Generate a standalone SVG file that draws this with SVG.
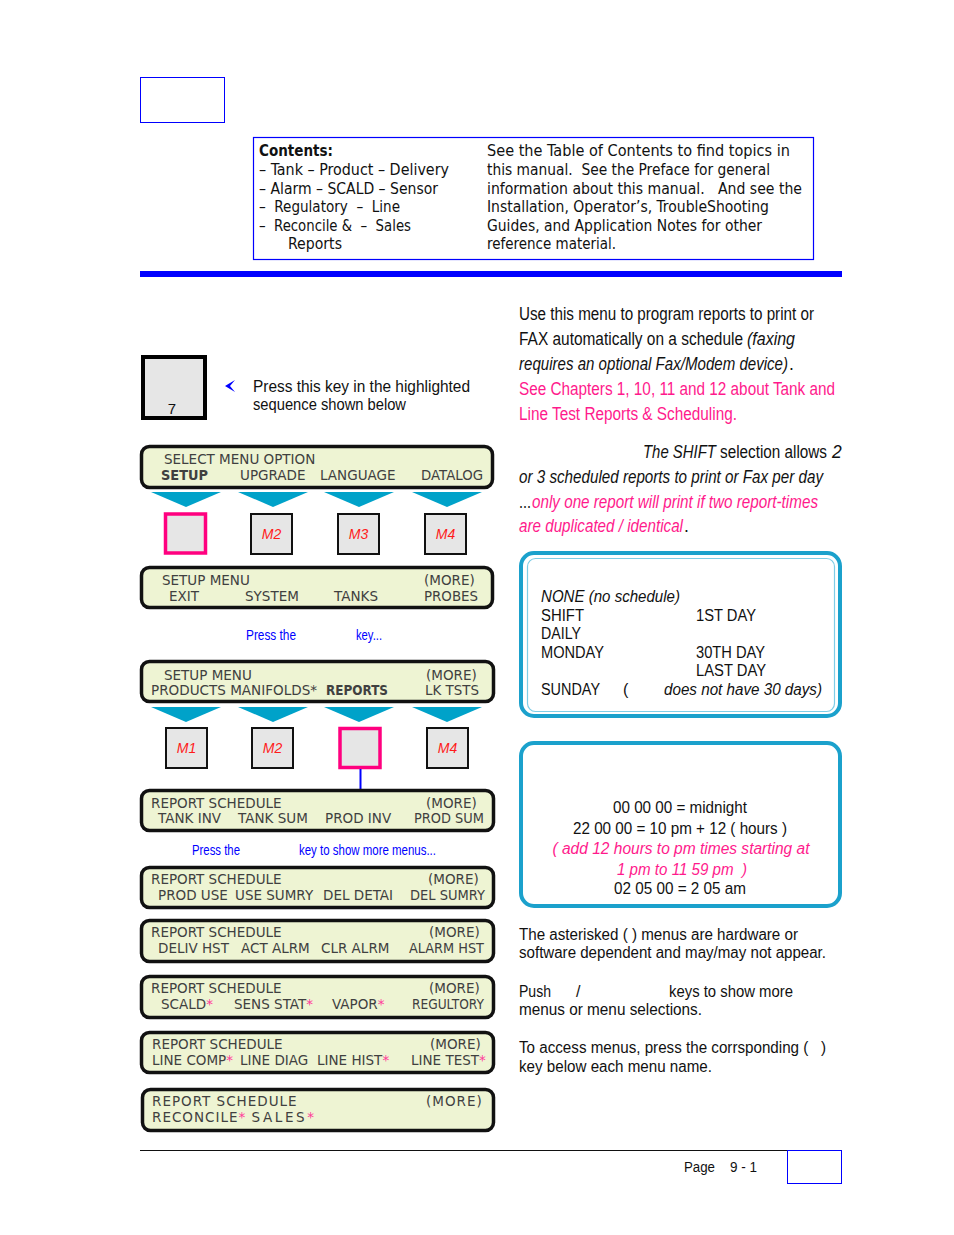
<svg xmlns="http://www.w3.org/2000/svg" width="954" height="1235" viewBox="0 0 954 1235">
<style>
.toc{font-family:"DejaVu Sans Condensed","DejaVu Sans",sans-serif;font-stretch:condensed;font-size:15px;fill:#111;white-space:pre}
.lcd{font-family:"DejaVu Sans",sans-serif;font-size:13.5px;fill:#404040;white-space:pre}
.b{font-weight:bold}
.panel{fill:#eef4d3;stroke:#111;stroke-width:3.5}
.tri{fill:#00a2c9}
.key{fill:#e6e6e6;stroke:#111;stroke-width:2}
.keyhi{fill:#e6e6e6;stroke:#ff007f;stroke-width:3.5}
.kl{font-family:"Liberation Sans",Arial,sans-serif;font-style:italic;font-size:14px;fill:#ff1a1a;text-anchor:middle}
.txt{font-family:"Liberation Sans",Arial,sans-serif;font-size:17.5px;fill:#111;white-space:pre}
.sm{font-family:"Liberation Sans",Arial,sans-serif;font-size:16px;fill:#111;white-space:pre}
.blue{font-family:"Liberation Sans",Arial,sans-serif;font-size:14px;fill:#0000ff}
.i{font-style:italic}
.pk{fill:#ff1a8c}
.ast{fill:#ff3d9a}
.cbox{fill:#fff;stroke:#1ba1cc;stroke-width:4}
</style>
<defs>
<path id="tri" d="M0,0 L70,0 L35,15 Z"/>
</defs>
<rect width="954" height="1235" fill="#fff"/>

<g id="header">
<rect x="140.5" y="77.5" width="84" height="45" fill="none" stroke="#0000ff" stroke-width="1"/>
<rect x="253.5" y="137.5" width="560" height="122" fill="none" stroke="#0000ff" stroke-width="1.2"/>
<text class="toc b" x="259" y="156">Contents:</text>
<text class="toc" x="259" y="175" textLength="190" lengthAdjust="spacingAndGlyphs">– Tank – Product – Delivery</text>
<text class="toc" x="259" y="194" textLength="179" lengthAdjust="spacingAndGlyphs">– Alarm – SCALD – Sensor</text>
<text class="toc" x="259" y="212" textLength="141" lengthAdjust="spacingAndGlyphs">–  Regulatory  –  Line</text>
<text class="toc" x="259" y="231" textLength="152" lengthAdjust="spacingAndGlyphs">–  Reconcile &amp;  –  Sales</text>
<text class="toc" x="288" y="249" textLength="54" lengthAdjust="spacingAndGlyphs">Reports</text>
<text class="toc" x="487" y="156" textLength="303" lengthAdjust="spacingAndGlyphs">See the Table of Contents to find topics in</text>
<text class="toc" x="487" y="175" textLength="283" lengthAdjust="spacingAndGlyphs">this manual.  See the Preface for general</text>
<text class="toc" x="487" y="194" textLength="315" lengthAdjust="spacingAndGlyphs">information about this manual.   And see the</text>
<text class="toc" x="487" y="212" textLength="282" lengthAdjust="spacingAndGlyphs">Installation, Operator’s, TroubleShooting</text>
<text class="toc" x="487" y="231" textLength="275" lengthAdjust="spacingAndGlyphs">Guides, and Application Notes for other</text>
<text class="toc" x="487" y="249" textLength="129" lengthAdjust="spacingAndGlyphs">reference material.</text>
<rect x="140" y="271" width="702" height="6" fill="#0000ff"/>
</g>

<g id="key7">
<rect x="143" y="357" width="62" height="61" fill="#e6e6e6" stroke="#000" stroke-width="4"/>
<text x="172" y="414" font-family="Liberation Sans,Arial,sans-serif" font-size="15" fill="#111" text-anchor="middle">7</text>
<path d="M225,386 L235,380 L230,386 L235,392 Z" fill="#0000ff"/>
<text class="sm" x="253" y="392" textLength="217" lengthAdjust="spacingAndGlyphs">Press this key in the highlighted</text>
<text class="sm" x="253" y="410" textLength="153" lengthAdjust="spacingAndGlyphs">sequence shown below</text>
</g>

<g id="panel-select">
<rect class="panel" x="141.5" y="446.5" width="351" height="41" rx="8"/>
<text class="lcd" x="164" y="464">SELECT MENU OPTION</text>
<text class="lcd b" x="161" y="480" textLength="47" lengthAdjust="spacingAndGlyphs">SETUP</text>
<text class="lcd" x="240" y="480">UPGRADE</text>
<text class="lcd" x="320" y="480">LANGUAGE</text>
<text class="lcd" x="421" y="480" textLength="62" lengthAdjust="spacingAndGlyphs">DATALOG</text>
</g>

<g id="pointers">
<use href="#tri" class="tri" x="151" y="492"/>
<use href="#tri" class="tri" x="238" y="492"/>
<use href="#tri" class="tri" x="324" y="492"/>
<use href="#tri" class="tri" x="412" y="492"/>
<use href="#tri" class="tri" x="151" y="707"/>
<use href="#tri" class="tri" x="238" y="707"/>
<use href="#tri" class="tri" x="324" y="707"/>
<use href="#tri" class="tri" x="412" y="707"/>
</g>

<g id="keys-row1">
<rect class="keyhi" x="165.5" y="514" width="40" height="39"/>
<rect class="key" x="251" y="514" width="41" height="40"/>
<text class="kl" x="271.5" y="539">M2</text>
<rect class="key" x="338" y="514" width="41" height="40"/>
<text class="kl" x="358.5" y="539">M3</text>
<rect class="key" x="425" y="514" width="41" height="40"/>
<text class="kl" x="445.5" y="539">M4</text>
</g>

<g id="panel-setup">
<rect class="panel" x="141.5" y="567.5" width="351" height="40" rx="8"/>
<text class="lcd" x="162" y="585">SETUP MENU</text>
<text class="lcd" x="424" y="585">(MORE)</text>
<text class="lcd" x="169" y="601">EXIT</text>
<text class="lcd" x="245" y="601">SYSTEM</text>
<text class="lcd" x="334" y="601">TANKS</text>
<text class="lcd" x="424" y="601" textLength="54" lengthAdjust="spacingAndGlyphs">PROBES</text>
</g>

<g id="note-press1">
<text class="blue" x="246" y="640" textLength="50" lengthAdjust="spacingAndGlyphs">Press the</text>
<text class="blue" x="356" y="640" textLength="26" lengthAdjust="spacingAndGlyphs">key...</text>
</g>

<g id="panel-setup2">
<rect class="panel" x="141.5" y="661.5" width="352" height="40" rx="8"/>
<text class="lcd" x="164" y="680">SETUP MENU</text>
<text class="lcd" x="426" y="680">(MORE)</text>
<text class="lcd" x="151" y="695" textLength="166" lengthAdjust="spacingAndGlyphs">PRODUCTS MANIFOLDS*</text>
<text class="lcd b" x="326" y="695" textLength="62" lengthAdjust="spacingAndGlyphs">REPORTS</text>
<text class="lcd" x="425" y="695" textLength="54" lengthAdjust="spacingAndGlyphs">LK TSTS</text>
</g>

<g id="keys-row2">
<rect class="key" x="166" y="728" width="41" height="40"/>
<text class="kl" x="186.5" y="753">M1</text>
<rect class="key" x="252" y="728" width="41" height="40"/>
<text class="kl" x="272.5" y="753">M2</text>
<rect class="keyhi" x="340" y="728.5" width="40" height="39"/>
<rect class="key" x="427" y="728" width="41" height="40"/>
<text class="kl" x="447.5" y="753">M4</text>
</g>

<g id="connectors">
<line x1="360.5" y1="769" x2="360.5" y2="790" stroke="#0000ff" stroke-width="2"/>
</g>

<g id="panel-rs1">
<rect class="panel" x="141.5" y="790.5" width="352" height="40" rx="8"/>
<text class="lcd" x="151" y="808">REPORT SCHEDULE</text>
<text class="lcd" x="426" y="808">(MORE)</text>
<text class="lcd" x="158" y="823">TANK INV</text>
<text class="lcd" x="238" y="823">TANK SUM</text>
<text class="lcd" x="325" y="823">PROD INV</text>
<text class="lcd" x="414" y="823" textLength="70" lengthAdjust="spacingAndGlyphs">PROD SUM</text>
</g>

<g id="note-press2">
<text class="blue" x="192" y="855" textLength="48" lengthAdjust="spacingAndGlyphs">Press the</text>
<text class="blue" x="299" y="855" textLength="137" lengthAdjust="spacingAndGlyphs">key to show more menus...</text>
</g>

<g id="panel-rs2">
<rect class="panel" x="141.5" y="867.5" width="352" height="40" rx="8"/>
<text class="lcd" x="151" y="884">REPORT SCHEDULE</text>
<text class="lcd" x="428" y="884">(MORE)</text>
<text class="lcd" x="158" y="900">PROD USE</text>
<text class="lcd" x="235" y="900">USE SUMRY</text>
<text class="lcd" x="323" y="900">DEL DETAI</text>
<text class="lcd" x="410" y="900" textLength="75" lengthAdjust="spacingAndGlyphs">DEL SUMRY</text>
</g>

<g id="panel-rs3">
<rect class="panel" x="141.5" y="920.5" width="352" height="41" rx="8"/>
<text class="lcd" x="151" y="937">REPORT SCHEDULE</text>
<text class="lcd" x="429" y="937">(MORE)</text>
<text class="lcd" x="158" y="953">DELIV HST</text>
<text class="lcd" x="241" y="953">ACT ALRM</text>
<text class="lcd" x="321" y="953">CLR ALRM</text>
<text class="lcd" x="409" y="953" textLength="75" lengthAdjust="spacingAndGlyphs">ALARM HST</text>
</g>

<g id="panel-rs4">
<rect class="panel" x="141.5" y="976.5" width="352" height="41" rx="8"/>
<text class="lcd" x="151" y="993">REPORT SCHEDULE</text>
<text class="lcd" x="429" y="993">(MORE)</text>
<text class="lcd" x="161" y="1009">SCALD<tspan class="ast">*</tspan></text>
<text class="lcd" x="234" y="1009">SENS STAT<tspan class="ast">*</tspan></text>
<text class="lcd" x="332" y="1009">VAPOR<tspan class="ast">*</tspan></text>
<text class="lcd" x="412" y="1009" textLength="72" lengthAdjust="spacingAndGlyphs">REGULTORY</text>
</g>

<g id="panel-rs5">
<rect class="panel" x="141.5" y="1032.5" width="352" height="40" rx="8"/>
<text class="lcd" x="152" y="1049">REPORT SCHEDULE</text>
<text class="lcd" x="430" y="1049">(MORE)</text>
<text class="lcd" x="152" y="1065">LINE COMP<tspan class="ast">*</tspan></text>
<text class="lcd" x="240" y="1065">LINE DIAG</text>
<text class="lcd" x="317" y="1065">LINE HIST<tspan class="ast">*</tspan></text>
<text class="lcd" x="411" y="1065">LINE TEST<tspan class="ast">*</tspan></text>
</g>

<g id="panel-rs6">
<rect class="panel" x="142.5" y="1089.5" width="351" height="41" rx="8"/>
<text class="lcd" x="152" y="1106" letter-spacing="1">REPORT SCHEDULE</text>
<text class="lcd" x="426" y="1106" letter-spacing="1">(MORE)</text>
<text class="lcd" x="152" y="1122" letter-spacing="1">RECONCILE<tspan class="ast">*</tspan> <tspan letter-spacing="2.6">SALES</tspan><tspan class="ast">*</tspan></text>
</g>

<g id="intro-text">
<text class="txt" x="519" y="320" textLength="295" lengthAdjust="spacingAndGlyphs">Use this menu to program reports to print or</text>
<text class="txt" x="519" y="345" textLength="224" lengthAdjust="spacingAndGlyphs">FAX automatically on a schedule</text>
<text class="txt i" x="747" y="345" textLength="48" lengthAdjust="spacingAndGlyphs">(faxing</text>
<text class="txt i" x="519" y="370" textLength="269" lengthAdjust="spacingAndGlyphs">requires an optional Fax/Modem device)</text>
<text class="txt" x="789" y="370">.</text>
<text class="txt pk" x="519" y="395" textLength="316" lengthAdjust="spacingAndGlyphs">See Chapters 1, 10, 11 and 12 about Tank and</text>
<text class="txt pk" x="519" y="420" textLength="218" lengthAdjust="spacingAndGlyphs">Line Test Reports &amp; Scheduling.</text>
<text class="txt i" x="643" y="458" textLength="73" lengthAdjust="spacingAndGlyphs">The SHIFT</text>
<text class="txt" x="720" y="458" textLength="107" lengthAdjust="spacingAndGlyphs">selection allows</text>
<text class="txt i" x="832" y="458">2</text>
<text class="txt i" x="519" y="483" textLength="304" lengthAdjust="spacingAndGlyphs">or 3 scheduled reports to print or Fax per day</text>
<text class="txt" x="519" y="508" textLength="12" lengthAdjust="spacingAndGlyphs">...</text>
<text class="txt i pk" x="532" y="508" textLength="286" lengthAdjust="spacingAndGlyphs">only one report will print if two report-times</text>
<text class="txt i pk" x="519" y="532" textLength="164" lengthAdjust="spacingAndGlyphs">are duplicated / identical</text>
<text class="txt" x="684" y="532">.</text>
</g>

<g id="schedule-box">
<rect class="cbox" x="521" y="553" width="319" height="163" rx="13"/>
<rect x="527.5" y="558.5" width="307" height="153" rx="8" fill="none" stroke="#7fcde6" stroke-width="1.2"/>
<text class="sm i" x="541" y="602" textLength="139" lengthAdjust="spacingAndGlyphs">NONE (no schedule)</text>
<text class="sm" x="541" y="621" textLength="43" lengthAdjust="spacingAndGlyphs">SHIFT</text>
<text class="sm" x="696" y="621" textLength="60" lengthAdjust="spacingAndGlyphs">1ST DAY</text>
<text class="sm" x="541" y="639" textLength="40" lengthAdjust="spacingAndGlyphs">DAILY</text>
<text class="sm" x="541" y="658" textLength="63" lengthAdjust="spacingAndGlyphs">MONDAY</text>
<text class="sm" x="696" y="658" textLength="69" lengthAdjust="spacingAndGlyphs">30TH DAY</text>
<text class="sm" x="696" y="676" textLength="70" lengthAdjust="spacingAndGlyphs">LAST DAY</text>
<text class="sm" x="541" y="695" textLength="59" lengthAdjust="spacingAndGlyphs">SUNDAY</text>
<text class="sm" x="623" y="695">(</text>
<text class="sm i" x="664" y="695" textLength="158" lengthAdjust="spacingAndGlyphs">does not have 30 days)</text>
</g>

<g id="time-box">
<rect class="cbox" x="521" y="743" width="319" height="163" rx="13"/>
<text class="sm" x="680" y="813" text-anchor="middle" textLength="134" lengthAdjust="spacingAndGlyphs">00 00 00 = midnight</text>
<text class="sm" x="680" y="834" text-anchor="middle" textLength="214" lengthAdjust="spacingAndGlyphs">22 00 00 = 10 pm + 12 ( hours )</text>
<text class="sm i pk" x="681" y="854" text-anchor="middle" textLength="257" lengthAdjust="spacingAndGlyphs">( add 12 hours to pm times starting at</text>
<text class="sm i pk" x="682" y="875" text-anchor="middle" textLength="130" lengthAdjust="spacingAndGlyphs">1 pm to 11 59 pm  )</text>
<text class="sm" x="680" y="894" text-anchor="middle" textLength="132" lengthAdjust="spacingAndGlyphs">02 05 00 = 2 05 am</text>
</g>

<g id="notes">
<text class="sm" x="519" y="940" textLength="279" lengthAdjust="spacingAndGlyphs">The asterisked ( ) menus are hardware or</text>
<text class="sm" x="519" y="958" textLength="307" lengthAdjust="spacingAndGlyphs">software dependent and may/may not appear.</text>
<text class="sm" x="519" y="997" textLength="32" lengthAdjust="spacingAndGlyphs">Push</text>
<text class="sm" x="576" y="997">/</text>
<text class="sm" x="669" y="997" textLength="124" lengthAdjust="spacingAndGlyphs">keys to show more</text>
<text class="sm" x="519" y="1015" textLength="183" lengthAdjust="spacingAndGlyphs">menus or menu selections.</text>
<text class="sm" x="519" y="1053" textLength="307" lengthAdjust="spacingAndGlyphs">To access menus, press the corrsponding (   )</text>
<text class="sm" x="519" y="1072" textLength="193" lengthAdjust="spacingAndGlyphs">key below each menu name.</text>
</g>

<g id="footer">
<line x1="140" y1="1150.5" x2="842" y2="1150.5" stroke="#111" stroke-width="1"/>
<rect x="787.5" y="1150.5" width="54" height="33" fill="none" stroke="#0000ff" stroke-width="1"/>
<text x="684" y="1172" font-family="Liberation Sans,Arial,sans-serif" font-size="14" fill="#111" textLength="31" lengthAdjust="spacingAndGlyphs">Page</text>
<text x="730" y="1172" font-family="Liberation Sans,Arial,sans-serif" font-size="14" fill="#111" textLength="27" lengthAdjust="spacingAndGlyphs">9 - 1</text>
</g>
</svg>
